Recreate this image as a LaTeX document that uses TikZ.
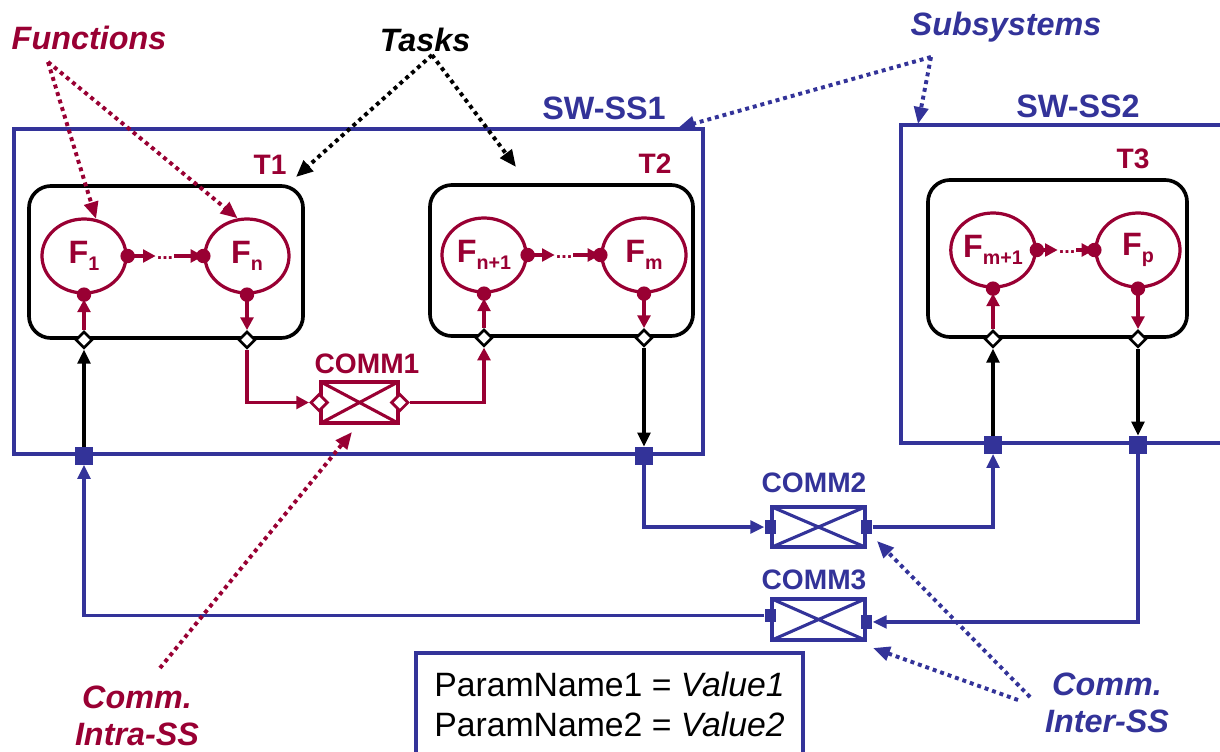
\documentclass[tikz,border=0pt]{standalone}
\usepackage{fontspec}
\setmainfont{Liberation Sans}
\usetikzlibrary{shapes.geometric,arrows.meta}
\definecolor{fred}{RGB}{153,0,51}
\definecolor{sblue}{RGB}{51,51,153}
\def\fsub#1{F\raisebox{-0.45ex}{\fontsize{14}{14}\selectfont #1}}

\tikzset{
  func/.style={ellipse, draw=fred, line width=2.3pt, minimum width=2.1cm, minimum height=1.85cm, inner sep=0pt, text=fred, font=\fontsize{23}{23}\selectfont\bfseries},
  task/.style={draw, line width=2.6pt, rounded corners=0.55cm, inner sep=0pt},
  subsys/.style={draw=sblue, line width=2.5pt, inner sep=0pt},
  port/.style={diamond, draw, fill=white, line width=1.9pt, minimum size=0.42cm, inner sep=0pt},
  cport/.style={diamond, draw=fred, fill=white, line width=2pt, minimum size=0.44cm, inner sep=0pt},
  sqport/.style={fill=sblue, minimum size=0.44cm, inner sep=0pt},
  cqport/.style={fill=sblue, minimum width=0.28cm, minimum height=0.34cm, inner sep=0pt},
  comm/.style={draw=#1, line width=2.5pt, inner sep=0pt, path picture={\draw[#1, line width=2.2pt] (path picture bounding box.north west) -- (path picture bounding box.south east) (path picture bounding box.north east) -- (path picture bounding box.south west);}},
  dotsep/.style={text=fred, font=\fontsize{14}{14}\selectfont\bfseries, inner sep=0pt, minimum width=0.45cm, text height=0.55em, text depth=0pt},
  rarrow/.style={draw=fred, line width=2.4pt, -{Triangle[length=9pt,width=9pt]}},
  karrow/.style={draw=black, line width=2.4pt, -{Triangle[length=10pt,width=9pt]}},
  barrow/.style={draw=sblue, line width=2.4pt, -{Triangle[length=10pt,width=9pt]}},
  annot/.style={line width=2.8pt, dash pattern=on 2.8pt off 2.8pt, -{Triangle[length=12pt,width=10pt]}},
  tlabel/.style={text=fred, font=\fontsize{20}{20}\selectfont\bfseries},
  sslabel/.style={text=sblue, font=\fontsize{23}{23}\selectfont\bfseries},
  commlabel/.style={text=#1, font=\fontsize{20}{20}\selectfont\bfseries},
  notelabel/.style={text=#1, align=center, font=\fontsize{23}{26}\selectfont\bfseries\itshape},
}

\begin{document}
\begin{tikzpicture}[x=0.025cm, y=-0.025cm]
	%%%%% START %%%%%
	\useasboundingbox (0,0) rectangle (1220,751);
	\clip (0,0) rectangle (1220,751);
	
	% subsystems
	\node[subsys, minimum width=17.225cm, minimum height=8.125cm] (ss1) at (358.5,291.5) {};
	\node[subsys, minimum width=8.475cm, minimum height=7.95cm] (ss2) at (1070.5,284) {};
	\node[sslabel] (ss1l) at (604,108) {SW-SS1};
	\node[sslabel] (ss2l) at (1078,106) {SW-SS2};
	
	% tasks
	\node[task, minimum width=6.85cm, minimum height=3.8cm] (t1) at (166,262) {};
	\node[task, minimum width=6.575cm, minimum height=3.775cm] (t2) at (561.5,260.5) {};
	\node[task, minimum width=6.475cm, minimum height=3.925cm] (t3) at (1057.5,258.5) {};
	\node[tlabel] (t1l) at (270,165) {T1};
	\node[tlabel] (t2l) at (655,164) {T2};
	\node[tlabel] (t3l) at (1133,159) {T3};
	
	% functions
	\node[func] (f1) at (84,256) {\fsub{1}};
	\node[func] (fn) at (247,256) {\fsub{n}};
	\node[func] (fn1) at (484,255) {\fsub{n+1}};
	\node[func] (fm) at (644,255) {\fsub{m}};
	\node[func] (fm1) at (993,250) {\fsub{m+1}};
	\node[func] (fp) at (1138,250) {\fsub{p}};
	\node[dotsep] (d1) at (165,256) {...};
	\node[dotsep] (d2) at (564,255) {...};
	\node[dotsep] (d3) at (1067,250) {...};
	
	% task ports
	\node[port] (p1) at (f1 |- t1.south) {};
	\node[port] (pn) at (fn |- t1.south) {};
	\node[port] (pn1) at (fn1 |- t2.south) {};
	\node[port] (pm) at (fm |- t2.south) {};
	\node[port] (pm1) at (fm1 |- t3.south) {};
	\node[port] (pp) at (fp |- t3.south) {};
	
	% subsystem ports
	\node[sqport] (s1) at (p1 |- ss1.south) {};
	\node[sqport] (s2) at (pm |- ss1.south) {};
	\node[sqport] (s3) at (pm1 |- ss2.south) {};
	\node[sqport] (s4) at (pp |- ss2.south) {};
	
	% communications
	\node[comm=fred, minimum width=1.925cm, minimum height=1.025cm] (c1) at (359.5,402.5) {};
	\node[cport] (c1l) at (c1.west) {};
	\node[cport] (c1r) at (c1.east) {};
	\node[commlabel=fred] (c1t) at (367,364) {COMM1};
	
	\node[comm=sblue, minimum width=2.325cm, minimum height=1cm] (c2) at (818.5,527) {};
	\node[cqport] (c2l) at (c2.west) {};
	\node[cqport] (c2r) at (c2.east) {};
	\node[commlabel=sblue] (c2t) at (814,483) {COMM2};
	
	\node[comm=sblue, minimum width=2.325cm, minimum height=1.025cm] (c3) at (818.5,619.5) {};
	\node[cqport] (c3l) at ([yshift=0.1cm]c3.west) {};
	\node[cqport] (c3r) at ([yshift=-0.06cm]c3.east) {};
	\node[commlabel=sblue] (c3t) at (814,580) {COMM3};
	
	% flows inside tasks
	\draw[rarrow] (f1.east) -- (d1.west);
	\draw[rarrow] (d1.east) -- (fn.west);
	\draw[rarrow] (fn1.east) -- (d2.west);
	\draw[rarrow] (d2.east) -- (fm.west);
	\draw[rarrow] (fm1.east) -- (d3.west);
	\draw[rarrow] (d3.east) -- (fp.west);
	
	\draw[rarrow, shorten >=0.12cm] (p1.north) -- (f1.south);
	\draw[rarrow] (fn.south) -- (pn.north);
	\draw[rarrow, shorten >=0.12cm] (pn1.north) -- (fn1.south);
	\draw[rarrow] (fm.south) -- (pm.north);
	\draw[rarrow, shorten >=0.12cm] (pm1.north) -- (fm1.south);
	\draw[rarrow] (fp.south) -- (pp.north);
	
	\foreach \a in {f1.east,f1.south,fn.west,fn.south,fn1.east,fn1.south,fm.west,fm.south,fm1.east,fm1.south,fp.west,fp.south}
		\fill[fred] (\a) circle (0.18cm);
	
	% intra subsystem
	\draw[rarrow] (pn.south) |- (c1l.west);
	\draw[rarrow] (c1r.east) -| (pn1.south);
	
	\draw[karrow] (s1.north) -- (p1.south);
	\draw[karrow] (pm.south) -- (s2.north);
	\draw[karrow] (s3.north) -- (pm1.south);
	\draw[karrow] (pp.south) -- (s4.north);
	
	% inter subsystem
	\draw[barrow] (s2.south) |- (c2l.west);
	\draw[barrow] (c2r.east) -| (s3.south);
	\draw[barrow] (s4.south) |- (c3r.east);
	\draw[barrow] (c3l.west) -| (s1.south);
	
	% parameters
	\node[draw=sblue, line width=2.4pt, minimum width=9.675cm, minimum height=2.575cm, align=left, font=\fontsize{24}{25.6}\selectfont] (par) at (609.5,704.5) {ParamName1 = \textit{Value1}\\[3pt]ParamName2 = \textit{Value2}};
	
	% notes
	\node[notelabel=fred] (nfun) at (89,38) {Functions};
	\node[notelabel=black] (ntask) at (425,40) {Tasks};
	\node[notelabel=sblue] (nsub) at (1006,27) {Subsystems};
	\node[notelabel=fred] (nintra) at (137,716) {Comm.\\Intra-SS};
	\node[notelabel=sblue] (ninter) at (1107,703) {Comm.\\Inter-SS};
	
	\coordinate (fun0) at (48,62);
	\coordinate (task0) at (432,55);
	\coordinate (task1) at (296,177);
	\coordinate (task2) at (516,167);
	\coordinate (sub0) at (931,57);
	\coordinate (sub1) at (678,128);
	\coordinate (sub2) at (918,124);
	\coordinate (intra0) at (160,668);
	\coordinate (intra1) at (352,432);
	\coordinate (inter0) at (1030,697);
	\coordinate (inter1) at (1018,700);
	\coordinate (inter2) at (877,541);
	\coordinate (inter3) at (873,648);
	
	\draw[annot, fred] (fun0) -- (f1.72);
	\draw[annot, fred] (fun0) -- (fn.104);
	\draw[annot, black] (task0) -- (task1);
	\draw[annot, black] (task0) -- (task2);
	\draw[annot, sblue] (sub0) -- (sub1);
	\draw[annot, sblue] (sub0) -- (sub2);
	\draw[annot, fred] (intra0) -- (intra1);
	\draw[annot, sblue] (inter0) -- (inter2);
	\draw[annot, sblue] (inter1) -- (inter3);
	
	%%%%% END %%%%%
\end{tikzpicture}
\end{document}
